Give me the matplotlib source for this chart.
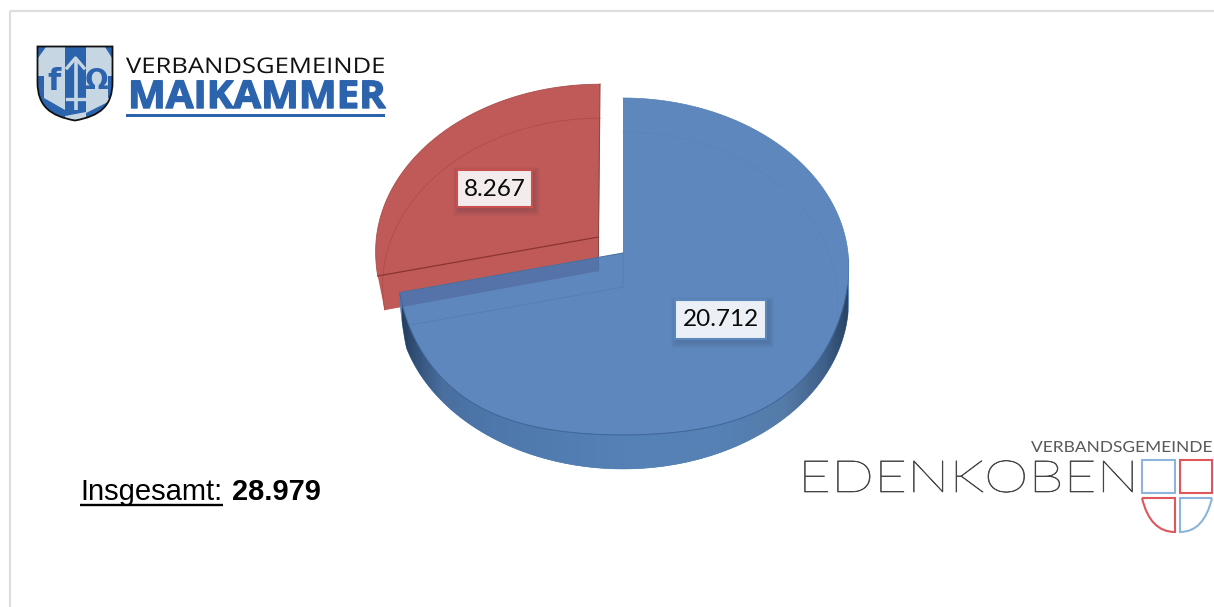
import numpy as np
import matplotlib
matplotlib.use("Agg")
import matplotlib.pyplot as plt
from matplotlib.colors import LinearSegmentedColormap
from matplotlib.patches import Polygon, Rectangle, PathPatch
from matplotlib.path import Path
from matplotlib.patheffects import AbstractPathEffect
from matplotlib.transforms import Affine2D

# Population counts per municipality association
categories = ["Edenkoben", "Maikammer"]
values = [20712, 8267]
value_labels = ["20.712", "8.267"]
total_label = "28.979"

BLUE = np.array([0x5C, 0x87, 0xBD]) / 255
BLUE_ALPHA = 0.88
RED = "#C05A58"
W, H = 1214, 607

fig = plt.figure(figsize=(W / 100, H / 100), dpi=100)
ax = fig.add_axes([0, 0, 1, 1])
ax.set_xlim(0, W)
ax.set_ylim(H, 0)
ax.axis("off")


class HStretch(AbstractPathEffect):
    """Widen glyph outlines horizontally about a display-space anchor, with an optional stroke."""

    def __init__(self, factor, anchor_x, stroke=0.0):
        super().__init__()
        self.factor = factor
        self.anchor_x = anchor_x
        self.stroke = stroke

    def draw_path(self, renderer, gc, tpath, affine, rgbFace=None):
        extra = (Affine2D().translate(-self.anchor_x, 0)
                 .scale(self.factor, 1).translate(self.anchor_x, 0))
        gc0 = renderer.new_gc()
        gc0.copy_properties(gc)
        if self.stroke and rgbFace is not None:
            gc0.set_linewidth(self.stroke)
            gc0.set_foreground(rgbFace[:3])
        renderer.draw_path(gc0, tpath, affine + extra, rgbFace)
        gc0.restore()


def project(theta, radius, cx, cy, rx=225.0, ry=167.4, k=0.08, dy=0.0, skew=0.0, bulge=45.0):
    """Perspective projection of a tilted disc; theta runs clockwise from 12 o'clock."""
    u = radius * np.sin(theta)
    v = radius * np.cos(theta)
    w = 1 + k * v
    belly = np.where(v < 0, bulge * u * u * v * v, 0.0)
    return cx + rx * u / w + skew * v, cy - ry * v / w + belly + dy


def wedge_outline(t0, t1, cx, cy, n=200, **kw):
    t = np.linspace(t0, t1, n)
    x, y = project(t, 1.0, cx, cy, **kw)
    ax0, ay0 = project(0.0, 0.0, cx, cy, **kw)
    return np.vstack([[ax0, ay0], np.column_stack([x, y]), [ax0, ay0]])


# Sweep angles derived from the values
total = sum(values)
blue_end = 2 * np.pi * values[0] / total
blue_c = (623.0, 253.0)
red_c = (598.5, 237.0)
depth = 34.0
red_upper = dict(rx=222.0, ry=165.0, skew=1.5)
red_lower = dict(rx=215.0, ry=165.0, skew=1.5, dy=34.0)

# Frame
ax.plot([10, 10], [607, 11], color="#DDDDDD", lw=1.6, solid_capstyle="butt", zorder=1)
ax.plot([10, 1214], [11, 11], color="#DDDDDD", lw=1.6, solid_capstyle="butt", zorder=1)

# Exploded slice: two stacked copies merged into one flat tone
ax.add_patch(Polygon(wedge_outline(blue_end, 2 * np.pi, *red_c, **red_upper),
                     closed=True, fc=RED, ec="none", zorder=2))
ax.add_patch(Polygon(wedge_outline(blue_end, 2 * np.pi, *red_c, **red_lower),
                     closed=True, fc=RED, ec="none", zorder=2))
sweep = np.linspace(blue_end, 2 * np.pi, 120)
bx, by = project(blue_end, 1.0, *red_c, **red_upper)
tx, ty = project(2 * np.pi, 1.0, *red_c, **red_upper)
lbx, lby = project(blue_end, 1.0, *red_c, **red_lower)
apex_u = project(0.0, 0.0, *red_c, **red_upper)
apex_l = project(0.0, 0.0, *red_c, **red_lower)
ax.add_patch(Polygon([[bx, by], apex_u, apex_l, [lbx, lby]],
                     closed=True, fc=RED, ec="none", zorder=2))
ax.plot(*project(sweep, 1.0, *red_c, **red_upper), color="#A84E4C", lw=0.6, zorder=3)
ax.plot(*project(sweep, 1.0, *red_c, **red_lower), color="#AC4E4C", lw=0.6, zorder=3)
ax.plot([bx, apex_u[0]], [by, apex_u[1]], color="#8A3432", lw=0.9, zorder=3)
ax.plot([tx, apex_u[0], apex_l[0]], [ty, apex_u[1], apex_l[1]],
        color="#8A4A48", lw=0.8, zorder=3)

# Rim of the large slice: a horizontal shade clipped to the wall outline
front = np.linspace(np.radians(92), blue_end, 300)
taper = np.minimum(1.0, np.minimum((front - front[0]) / 0.10, (blue_end - front) / 0.14))
rim_top = np.column_stack(project(front, 1.0, *blue_c))
lx_arc, ly_arc = project(front, 1.0, *blue_c, bulge=0.0)
rim_low = np.column_stack([lx_arc, ly_arc + depth * taper ** 0.6])
rim = Polygon(np.vstack([rim_top, rim_low[::-1]]), closed=True, fc="#4F7AAE", ec="#4F7AAE",
              lw=0.4, zorder=4)
ax.add_patch(rim)
rim_shade = LinearSegmentedColormap.from_list("rim", [
    (0.00, "#263F60"), (0.03, "#34527A"), (0.09, "#4A6F9F"), (0.20, "#4E78AB"),
    (0.50, "#5581B7"), (0.72, "#5581B5"), (0.86, "#557BA8"), (0.95, "#3F6089"), (1.00, "#2A4566")])
shade = ax.imshow(np.linspace(0, 1, 446)[None, :], cmap=rim_shade, aspect="auto",
                  extent=[402, 848, 475, 260], zorder=4.5, interpolation="bilinear")
shade.set_clip_path(rim)
ax.set_xlim(0, W)
ax.set_ylim(H, 0)

# Top face of the large slice, translucent over the exploded one
blue_pts = wedge_outline(0.0, blue_end, *blue_c)
ax.add_patch(Polygon(blue_pts, closed=True, fc=(BLUE - (1 - BLUE_ALPHA)) / BLUE_ALPHA,
                     alpha=BLUE_ALPHA, ec="none", zorder=5))
ts = np.linspace(0.0, blue_end, 300)
ax.plot(*project(ts[ts > np.radians(100)], 1.0, *blue_c), color="#3F6696", lw=0.7, zorder=6)
ax.plot(*project(ts[ts < np.radians(100)], 1.0, *blue_c), color="#5480B4", lw=0.5, zorder=6)
lx, ly = project(blue_end, 1.0, *blue_c)
ax.plot([lx, blue_c[0]], [ly, blue_c[1]], color="#47709F", lw=0.7, zorder=6)
# Faint trace of the lower edge on the face
ghost = ts[ts < np.radians(100)]
ax.plot(*project(ghost, 1.0, *blue_c, rx=214.0, dy=depth), color="#5985BB", lw=0.5, zorder=6)
ax.plot([lx + 13, blue_c[0], blue_c[0]], [ly + depth - 2, blue_c[1] + depth, blue_c[1]],
        color="#5480B6", lw=0.7, zorder=6)


def value_box(x0, y0, x1, y1, text, face, edge):
    for grow in (6, 5, 4, 3, 2, 1):
        ax.add_patch(Rectangle((x0 - grow + 2, y0 - grow + 3), x1 - x0 + 2 * grow,
                               y1 - y0 + 2 * grow, fc="#203040", alpha=0.03, ec="none", zorder=7))
    ax.add_patch(Rectangle((x0, y0), x1 - x0, y1 - y0, fc=face, ec=edge, lw=1.5, zorder=8))
    ax.text((x0 + x1) / 2, (y0 + y1) / 2 + 0.5, text, ha="center", va="center",
            family="Lato", fontsize=17.5, color="#0A0A0A", zorder=9)


value_box(457, 170, 532, 207, value_labels[1], "#F4ECEC", "#C9504F")
value_box(675, 300, 766, 339, value_labels[0], "#EBF0F6", "#5C87BD")

# Total, underlined caption followed by the bold figure
ax.text(80, 500, "Insgesamt:", family="Liberation Sans", fontsize=21, color="black",
        ha="left", va="baseline", zorder=9)
ax.plot([80, 223], [504.5, 504.5], color="black", lw=1.7, solid_capstyle="butt", zorder=9)
ax.text(232, 500, total_label, family="Liberation Sans", fontsize=21, fontweight="bold",
        color="black", ha="left", va="baseline", zorder=9)

# Maikammer mark: crest
LOGO_BLUE = "#2C63AD"
LOGO_PALE = "#C6D6E3"
outline = [(37.5, 46.5), (112.5, 46.5), (112.5, 82), (112.5, 106), (100, 116), (75, 120.5),
           (50, 116), (37.5, 106), (37.5, 82), (37.5, 46.5)]
codes = [Path.MOVETO, Path.LINETO, Path.LINETO, Path.CURVE4, Path.CURVE4, Path.CURVE4,
         Path.CURVE4, Path.CURVE4, Path.CURVE4, Path.CLOSEPOLY]
shield = PathPatch(Path(outline, codes), fc=LOGO_PALE, ec="none", zorder=2)
ax.add_patch(shield)
blue_parts = [
    [(65, 47), (86, 47), (86, 112), (65, 116)],           # central pale
    [(38, 47), (46, 47), (38, 58)],                       # upper corners
    [(105, 47), (112, 47), (112, 58)],
    [(38, 76), (44, 76), (44, 98), (38, 98)],             # flanks
    [(108, 76), (112, 76), (112, 98), (108, 98)],
    [(38, 98), (44, 98), (65, 110), (65, 121), (38, 110)],  # lower left field
    [(86, 113), (112, 100), (112, 106), (86, 121)],       # lower right edge
]
for part in blue_parts:
    poly = Polygon(part, closed=True, fc=LOGO_BLUE, ec="none", zorder=3)
    ax.add_patch(poly)
    poly.set_clip_path(shield)
ax.add_patch(PathPatch(Path(outline, codes), fc="none", ec="#111111", lw=1.3, zorder=3.5))
# Arrow on the central pale
ax.plot([75.5, 75.5], [58, 110], color=LOGO_PALE, lw=2.6, zorder=4, solid_capstyle="butt")
ax.plot([67, 75.5, 84], [68, 58, 68], color=LOGO_PALE, lw=2.4, zorder=4)
ax.plot([67, 84], [99, 99], color=LOGO_PALE, lw=2.4, zorder=4)
ax.text(54, 81, "f", family="DejaVu Sans", fontweight="bold", fontsize=22, color=LOGO_BLUE,
        ha="center", va="center", zorder=4)
ax.text(96, 81, "Ω", family="DejaVu Sans", fontweight="bold", fontsize=20, color=LOGO_BLUE,
        ha="center", va="center", zorder=4)

# Maikammer wordmark
t1 = ax.text(126, 73, "VERBANDSGEMEINDE", family="Open Sans", fontsize=15.5, color="#111111",
             ha="left", va="baseline", zorder=4)
t1.set_path_effects([HStretch(1.19, 126)])
t2 = ax.text(128, 108, "MAIKAMMER", family="Open Sans", fontsize=27.5, fontweight="bold",
             color=LOGO_BLUE, ha="left", va="baseline", zorder=4)
t2.set_path_effects([HStretch(1.05, 128, stroke=1.0)])
ax.add_patch(Rectangle((126, 114), 259, 3, fc=LOGO_BLUE, ec="none", zorder=4))

# Edenkoben mark: wide thin lettering and a quartered crest outline
ed = ax.text(798, 492, "EDENKOBEN", family="Lato", fontweight="light", fontsize=32,
             color="#454545", ha="left", va="baseline", zorder=4)
ed.set_path_effects([HStretch(1.275, 798, stroke=0.5)])
vg = ax.text(1031, 452, "VERBANDSGEMEINDE", family="Lato", fontsize=11, color="#5A5A5A",
             ha="left", va="baseline", zorder=4)
vg.set_path_effects([HStretch(1.135, 1031)])

CREST_BLUE = "#8DB4DC"
CREST_RED = "#E0575B"
ax.add_patch(Rectangle((1142, 460), 33, 33, fc="none", ec=CREST_BLUE, lw=1.5, zorder=4))
ax.add_patch(Rectangle((1180, 460), 32, 33, fc="none", ec=CREST_RED, lw=1.5, zorder=4))
ax.add_patch(PathPatch(Path([(1142, 498), (1175, 498), (1175, 532), (1150, 532), (1142, 498)],
                            [Path.MOVETO, Path.LINETO, Path.LINETO, Path.CURVE3, Path.CURVE3]),
                       fc="none", ec=CREST_RED, lw=1.5, zorder=4))
ax.add_patch(PathPatch(Path([(1212, 498), (1180, 498), (1180, 532), (1204, 532), (1212, 498)],
                            [Path.MOVETO, Path.LINETO, Path.LINETO, Path.CURVE3, Path.CURVE3]),
                       fc="none", ec=CREST_BLUE, lw=1.5, zorder=4))

fig.savefig("out.png", dpi=100, facecolor="white")
